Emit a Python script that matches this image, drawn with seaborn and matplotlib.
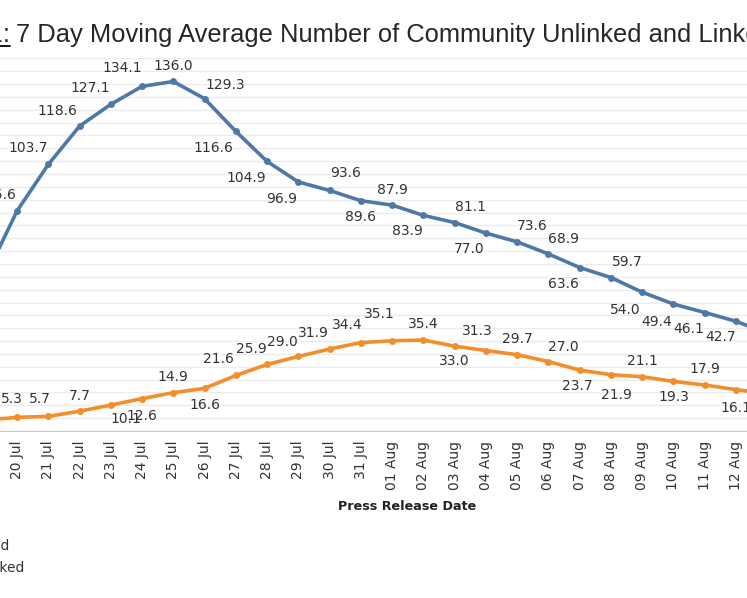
# 7 day moving average of community linked / unlinked cases (cropped view)

import pandas as pd
import numpy as np
import seaborn as sns
import matplotlib
matplotlib.use("Agg")
import matplotlib.pyplot as plt
from matplotlib.lines import Line2D

# data
dates = ["19 Jul", "20 Jul", "21 Jul", "22 Jul", "23 Jul", "24 Jul", "25 Jul",
         "26 Jul", "27 Jul", "28 Jul", "29 Jul", "30 Jul", "31 Jul",
         "01 Aug", "02 Aug", "03 Aug", "04 Aug", "05 Aug", "06 Aug", "07 Aug",
         "08 Aug", "09 Aug", "10 Aug", "11 Aug", "12 Aug", "13 Aug"]
linked = [60.3, 85.6, 103.7, 118.6, 127.1, 134.1, 136.0, 129.3, 116.6, 104.9,
          96.9, 93.6, 89.6, 87.9, 83.9, 81.1, 77.0, 73.6, 68.9, 63.6, 59.7,
          54.0, 49.4, 46.1, 42.7, 38.0]
unlinked = [4.3, 5.3, 5.7, 7.7, 10.1, 12.6, 14.9, 16.6, 21.6, 25.9, 29.0, 31.9,
            34.4, 35.1, 35.4, 33.0, 31.3, 29.7, 27.0, 23.7, 21.9, 21.1, 19.3,
            17.9, 16.1, 14.6]
series_names = ["Linked", "Unlinked"]

# label offsets in pixels (dx, dy with dy down), one per point
linked_offsets = [(-16, -16), (-17, -16), (-20, -16), (-22, -15), (-21, -16),
                  (-20, -18), (0, -15), (21, -14), (-22, 17), (-21, 17),
                  (-17, 17), (16, -17), (0, 16), (0, -15), (-16, 16), (16, -16),
                  (-17, 16), (15, -16), (15, -15), (-16, 16), (16, -16),
                  (-17, 18), (-17, 18), (-16, 16), (-15, 16), (16, 16)]
unlinked_offsets = [(0, -16), (-5, -18), (-8, -17), (0, -15), (15, 14), (0, 17),
                    (0, -16), (0, 17), (-17, -16), (-16, -15), (-16, -14),
                    (-16, -16), (-14, -18), (-13, -27), (0, -16), (0, 15),
                    (-9, -20), (0, -16), (15, -15), (-2, 16), (5, 20), (0, -16),
                    (0, 16), (0, -16), (0, 18), (0, 16)]

colors = {"Linked": "#4e79a7", "Unlinked": "#f28e2b"}

idx = np.arange(len(dates))
df = pd.DataFrame({
    "idx": np.concatenate([idx, idx]),
    "value": linked + unlinked,
    "series": [series_names[0]] * len(dates) + [series_names[1]] * len(dates),
})

sns.set_style("white")
plt.rcParams["font.family"] = ["DejaVu Sans"]

W, H = 747, 598
fig = plt.figure(figsize=(W / 100, H / 100), dpi=100)
px_per_unit = 2.57
ax_bottom = 431
ymax = 145
ax = fig.add_axes([0, (H - ax_bottom) / H, 1, ymax * px_per_unit / H])

sns.lineplot(data=df, x="idx", y="value", hue="series", palette=colors,
             marker="o", markersize=5, markeredgewidth=0, linewidth=2.6,
             legend=False, ax=ax)

ax.set_yticks(np.arange(0, ymax + 1, 5))
ax.yaxis.grid(True, color="#ececec", linewidth=1)
ax.tick_params(axis="y", left=False, labelleft=False)
ax.set_ylabel("")

ax.set_xticks(idx)
ax.set_xticklabels(dates)
ax.tick_params(axis="x", length=5, width=1, color="#777777", labelsize=10,
               labelrotation=90, pad=2, labelcolor="#333333")

# x range so that the view is cropped like the reference (after set_xticks)
spacing = 31.26
x0 = 1 - 17 / spacing
ax.set_xlim(x0, x0 + W / spacing)
ax.set_ylim(0, ymax)

for side in ["top", "left", "right"]:
    ax.spines[side].set_visible(False)
ax.spines["bottom"].set_color("#c8c8c8")

ax.set_xlabel("Press Release Date", fontweight="bold", fontsize=9.2,
              color="#222222")
ax.xaxis.set_label_coords(407 / W, (ax_bottom - 500) / (ymax * px_per_unit))

# point labels
for vals, offs in [(linked, linked_offsets), (unlinked, unlinked_offsets)]:
    for i, (v, (dx, dy)) in enumerate(zip(vals, offs)):
        ax.annotate(f"{v:.1f}", (i, v), xytext=(dx, -dy),
                    textcoords="offset pixels", ha="center", va="center",
                    fontsize=10, color="#333333", annotation_clip=False)

# title (cropped at both sides like the reference)
ty = 1 - 42 / H
fig.text(16 / W, ty, "7 Day Moving Average Number of Community Unlinked and Linked Cases",
         fontsize=18.4, family="Liberation Sans", va="baseline", ha="left")
fig.text(10 / W, ty, "Figure 1:", fontsize=18.4, family="Liberation Sans",
         va="baseline", ha="right")
fig.add_artist(Line2D([-0.15, 9.5 / W], [1 - 46 / H] * 2, color="black",
                      linewidth=1.3, transform=fig.transFigure))

# legend, mostly off the left edge
handles = [Line2D([], [], color=colors[n], linewidth=2.6, marker="o",
                  markersize=5) for n in series_names]
fig.legend(handles, series_names, loc="upper left",
           bbox_to_anchor=(-74 / W, 1 - 539 / H), frameon=False, borderpad=0,
           borderaxespad=0, handlelength=2, handletextpad=0.8,
           labelspacing=0.6, fontsize=10, labelcolor="#333333")

fig.savefig("out.png", dpi=100)
